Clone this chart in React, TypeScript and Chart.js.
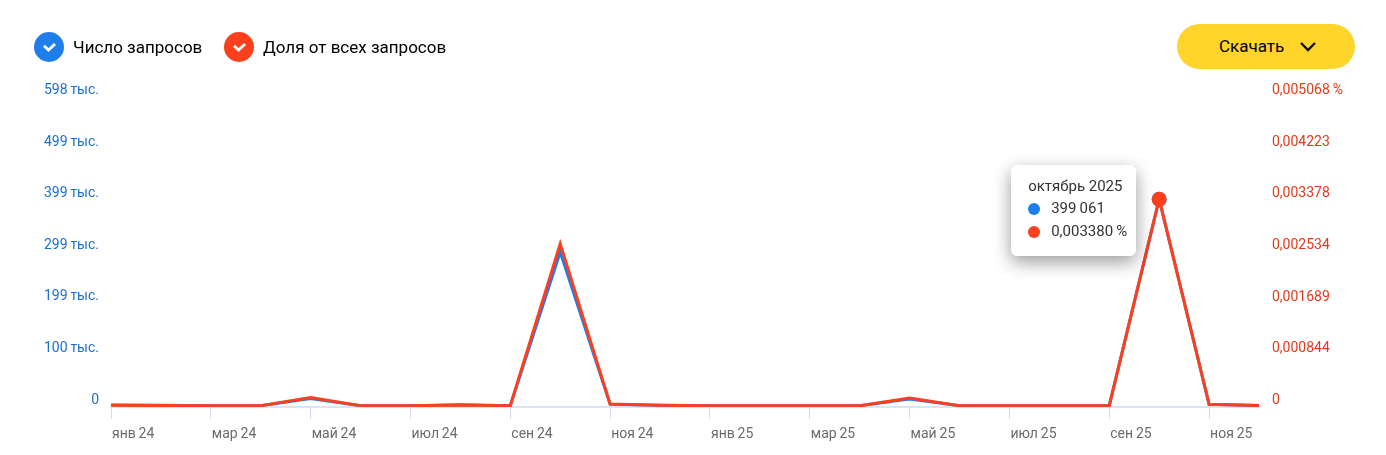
import { useEffect, useRef } from "react";
import Chart from "chart.js/auto";

const months = [
  "янв 24", "фев 24", "мар 24", "апр 24", "май 24", "июн 24", "июл 24", "авг 24",
  "сен 24", "окт 24", "ноя 24", "дек 24", "янв 25", "фев 25", "мар 25", "апр 25",
  "май 25", "июн 25", "июл 25", "авг 25", "сен 25", "окт 25", "ноя 25", "дек 25",
];

const requests = [
  1600, 900, 0, 0, 14000, 0, 0, 1800, 0, 297000, 2700, 800,
  0, 0, 0, 0, 13000, 0, 0, 0, 0, 399061, 2700, 300,
];
const shares = [
  0.000008, 0.000004, 0, 0, 0.000135, 0, 0, 0.000012, 0, 0.00265, 0.000026, 0.000008,
  0, 0, 0, 0, 0.000125, 0, 0, 0, 0, 0.00338, 0.000024, 0.000002,
];

const leftTickValues = [0, 99765, 199530, 299295, 399061, 498826, 598591];
const leftTickLabels = ["0", "100\u2009тыс.", "199\u2009тыс.", "299\u2009тыс.", "399\u2009тыс.", "499\u2009тыс.", "598\u2009тыс."];
const rightTickValues = [0, 0.000844, 0.001689, 0.002534, 0.003378, 0.004223, 0.005068];
const rightTickLabels = ["0", "0,000844", "0,001689", "0,002534", "0,003378", "0,004223", "0,005068\u2009%"];

const activeIndex = 21;
const BLUE = "#1f7fea";
const RED = "#fc3f1d";
const FONT = "Roboto, sans-serif";

const Check = ({ color }: { color: string }) => (
  <svg width="30" height="30" viewBox="0 0 30 30" style={{ display: "block" }}>
    <circle cx="15" cy="15" r="15" fill={color} />
    <path d="M10 13.8 L14.5 18 L21 12" fill="none" stroke="#fff" strokeWidth="2.8" />
  </svg>
);

const LegendItem = ({ x, color, label }: { x: number; color: string; label: string }) => (
  <div style={{ position: "absolute", left: x, top: 32, display: "flex", alignItems: "center", height: 30 }}>
    <Check color={color} />
    <span style={{ marginLeft: 9, fontSize: 17, color: "#000", whiteSpace: "nowrap" }}>{label}</span>
  </div>
);

const Dot = ({ color }: { color: string }) => (
  <span style={{ position: "absolute", left: 17, top: 6, width: 12, height: 12, borderRadius: 6, background: color }} />
);

const App = () => {
  const canvasRef = useRef<HTMLCanvasElement>(null);
  const tipRef = useRef<HTMLDivElement>(null);

  useEffect(() => {
    if (!canvasRef.current) return;

    const chart = new Chart(canvasRef.current, {
      type: "line",
      data: {
        labels: months,
        datasets: [
          {
            label: "Число запросов",
            data: requests,
            yAxisID: "left",
            borderColor: BLUE,
            backgroundColor: BLUE,
            borderWidth: 3,
            order: 2,
            pointRadius: (ctx) => (ctx.dataIndex === activeIndex ? 6 : 0),
          },
          {
            label: "Доля от всех запросов",
            data: shares,
            yAxisID: "right",
            borderColor: RED,
            backgroundColor: RED,
            borderWidth: 3,
            order: 1,
            pointRadius: (ctx) => (ctx.dataIndex === activeIndex ? 6 : 0),
          },
        ],
      },
      options: {
        responsive: false,
        animation: false,
        layout: { padding: { top: 96 } },
        plugins: { legend: { display: false }, tooltip: { enabled: false } },
        scales: {
          x: {
            offset: false,
            grid: { drawOnChartArea: false, color: "#d5dcef", tickLength: 12 },
            border: { color: "#dde3f3", width: 2 },
            ticks: {
              autoSkip: true,
              maxTicksLimit: 12,
              maxRotation: 0,
              align: "start",
              labelOffset: 1,
              padding: 7,
              color: "#6b6b6b",
              font: { family: FONT, size: 14 },
              // narrow space, the reference sets month and year close together
              callback: (_v, i) => months[i].replace(" ", "\u2009"),
            },
            afterFit: (axis) => {
              axis.height = 48;
            },
          },
          left: {
            position: "left",
            min: -2500,
            max: 598591,
            grid: { display: false },
            border: { display: false },
            afterBuildTicks: (axis) => {
              axis.ticks = leftTickValues.map((value) => ({ value }));
            },
            ticks: {
              padding: 4,
              labelOffset: -5.5,
              color: "#1a6fd0",
              font: { family: FONT, size: 14 },
              callback: (_v, i) => leftTickLabels[i],
            },
            afterFit: (axis) => {
              axis.width = 111;
            },
          },
          right: {
            position: "right",
            min: -0.0000212,
            max: 0.00507,
            grid: { display: false },
            border: { display: false },
            afterBuildTicks: (axis) => {
              axis.ticks = rightTickValues.map((value) => ({ value }));
            },
            ticks: {
              padding: 5,
              labelOffset: -5.5,
              color: "#e5391c",
              font: { family: FONT, size: 14 },
              callback: (_v, i) => rightTickLabels[i],
            },
            afterFit: (axis) => {
              axis.width = 127;
            },
          },
        },
      },
    });

    // tooltip stays open on the active month, placed from the chart's own scales
    if (tipRef.current) {
      const px = chart.scales.x.getPixelForValue(activeIndex);
      const py = chart.scales.left.getPixelForValue(requests[activeIndex]);
      tipRef.current.style.left = `${px - 148}px`;
      tipRef.current.style.top = `${py - 34}px`;
    }

    return () => {
      chart.destroy();
    };
  }, []);

  return (
    <div style={{ position: "absolute", left: 0, top: 0, width: 1386, height: 455, overflow: "hidden", background: "#fff", fontFamily: FONT }}>
      <canvas ref={canvasRef} width={1386} height={455} style={{ display: "block" }} />
      <LegendItem x={34} color={BLUE} label="Число запросов" />
      <LegendItem x={224} color={RED} label="Доля от всех запросов" />
      <div style={{ position: "absolute", left: 1177, top: 24, width: 178, height: 45, borderRadius: 23, background: "#ffd52b" }}>
        <span style={{ position: "absolute", left: 42, top: 12, fontSize: 17, lineHeight: "20px", color: "#000" }}>Скачать</span>
        <svg width="18" height="12" viewBox="0 0 18 12" style={{ position: "absolute", left: 122, top: 17 }}>
          <path d="M2 2 L9 9 L16 2" fill="none" stroke="#111" strokeWidth="2.4" />
        </svg>
      </div>
      <div
        ref={tipRef}
        style={{
          position: "absolute",
          width: 125,
          height: 91,
          borderRadius: 6,
          background: "#fff",
          boxShadow: "0 6px 18px rgba(0,0,0,0.4)",
          color: "#333",
          fontSize: 15,
          lineHeight: "23px",
        }}
      >
        <div style={{ position: "absolute", left: 17, top: 10, whiteSpace: "nowrap" }}>октябрь 2025</div>
        <div style={{ position: "absolute", left: 0, top: 32, width: 125, height: 23 }}>
          <Dot color={BLUE} />
          <span style={{ position: "absolute", left: 40, whiteSpace: "nowrap" }}>399{"\u2009"}061</span>
        </div>
        <div style={{ position: "absolute", left: 0, top: 55, width: 125, height: 23 }}>
          <Dot color={RED} />
          <span style={{ position: "absolute", left: 40, whiteSpace: "nowrap" }}>0,003380{"\u2009"}%</span>
        </div>
      </div>
    </div>
  );
};

export default App;
